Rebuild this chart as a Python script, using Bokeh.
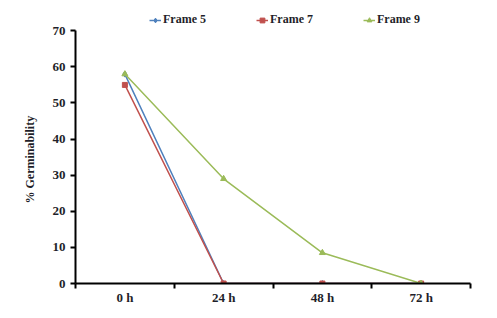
from bokeh.plotting import figure
from bokeh.models import Legend, LegendItem, LinearAxis, FixedTicker, Range1d, Title
from bokeh.embed import file_html
from bokeh.resources import INLINE

categories = ["0 h", "24 h", "48 h", "72 h"]
frame5 = [58, 0, 0, 0]
frame7 = [55, 0, 0, 0]
frame9 = [58, 29, 8.5, 0]
y_ticks = [0, 10, 20, 30, 40, 50, 60, 70]
y_label = "% Germinability"

FONT = "Liberation Serif"
TXT = "#1f1f2a"
xs = [i + 0.5 for i in range(len(categories))]

# extra headroom above 70 holds the legend; the axis line stops at 70
p = figure(width=497, height=318, output_backend="svg", toolbar_location=None,
           x_range=Range1d(0, len(categories)), y_range=Range1d(0, 77),
           min_border_left=75, min_border_right=27, min_border_top=5, min_border_bottom=35)
p.grid.visible = False
p.outline_line_color = None

# x axis with ticks at category boundaries (no labels)
xa = p.xaxis[0]
xa.ticker = FixedTicker(ticks=list(range(len(categories) + 1)))
xa.major_label_text_font_size = "1px"
xa.major_label_text_color = None
xa.major_label_standoff = 0
xa.axis_line_width = 2
xa.major_tick_line_width = 2
xa.major_tick_in = 0
xa.major_tick_out = 5
xa.minor_tick_line_color = None

# category labels centred in each band
xl = LinearAxis(ticker=FixedTicker(ticks=xs),
                major_label_overrides={x: c for x, c in zip(xs, categories)})
xl.axis_line_color = None
xl.major_tick_line_color = None
xl.minor_tick_line_color = None
xl.major_label_text_font = FONT
xl.major_label_text_font_size = "13px"
xl.major_label_text_font_style = "bold"
xl.major_label_text_color = TXT
xl.major_label_standoff = -5
p.add_layout(xl, "below")

ya = p.yaxis[0]
ya.ticker = FixedTicker(ticks=y_ticks)
ya.bounds = (y_ticks[0], y_ticks[-1])
ya.axis_line_width = 2
ya.major_tick_line_width = 2
ya.major_tick_in = 0
ya.major_tick_out = 5
ya.minor_tick_line_color = None
ya.major_label_text_font = FONT
ya.major_label_text_font_size = "13px"
ya.major_label_text_font_style = "bold"
ya.major_label_text_color = TXT
ya.major_label_standoff = 5

# y-axis title, centred on the 0-70 span rather than the whole frame
yt = Title(text=y_label, align="left", offset=80, standoff=26,
           text_font=FONT, text_font_size="12px", text_font_style="bold",
           text_color=TXT)
p.add_layout(yt, "left")

series = [("Frame 5", frame5, "#4F81BD", "diamond", 6),
          ("Frame 7", frame7, "#C0504D", "square", 5),
          ("Frame 9", frame9, "#9BBB59", "triangle", 6)]
items = []
for name, vals, col, mk, sz in series:
    l = p.line(xs, vals, line_color=col, line_width=1.5)
    s = p.scatter(xs, vals, marker=mk, size=sz, fill_color=col, line_color=col)
    items.append(LegendItem(label=name, renderers=[l, s]))

leg = Legend(items=items, orientation="horizontal", location=(74, 256),
             label_text_font=FONT, label_text_font_size="12px",
             label_text_font_style="bold", label_text_color=TXT,
             border_line_color=None, background_fill_alpha=0,
             glyph_width=12, glyph_height=12, label_standoff=2, spacing=50,
             padding=2, margin=0, label_height=14)
p.add_layout(leg)

open("out.html", "w").write(file_html(p, INLINE))
